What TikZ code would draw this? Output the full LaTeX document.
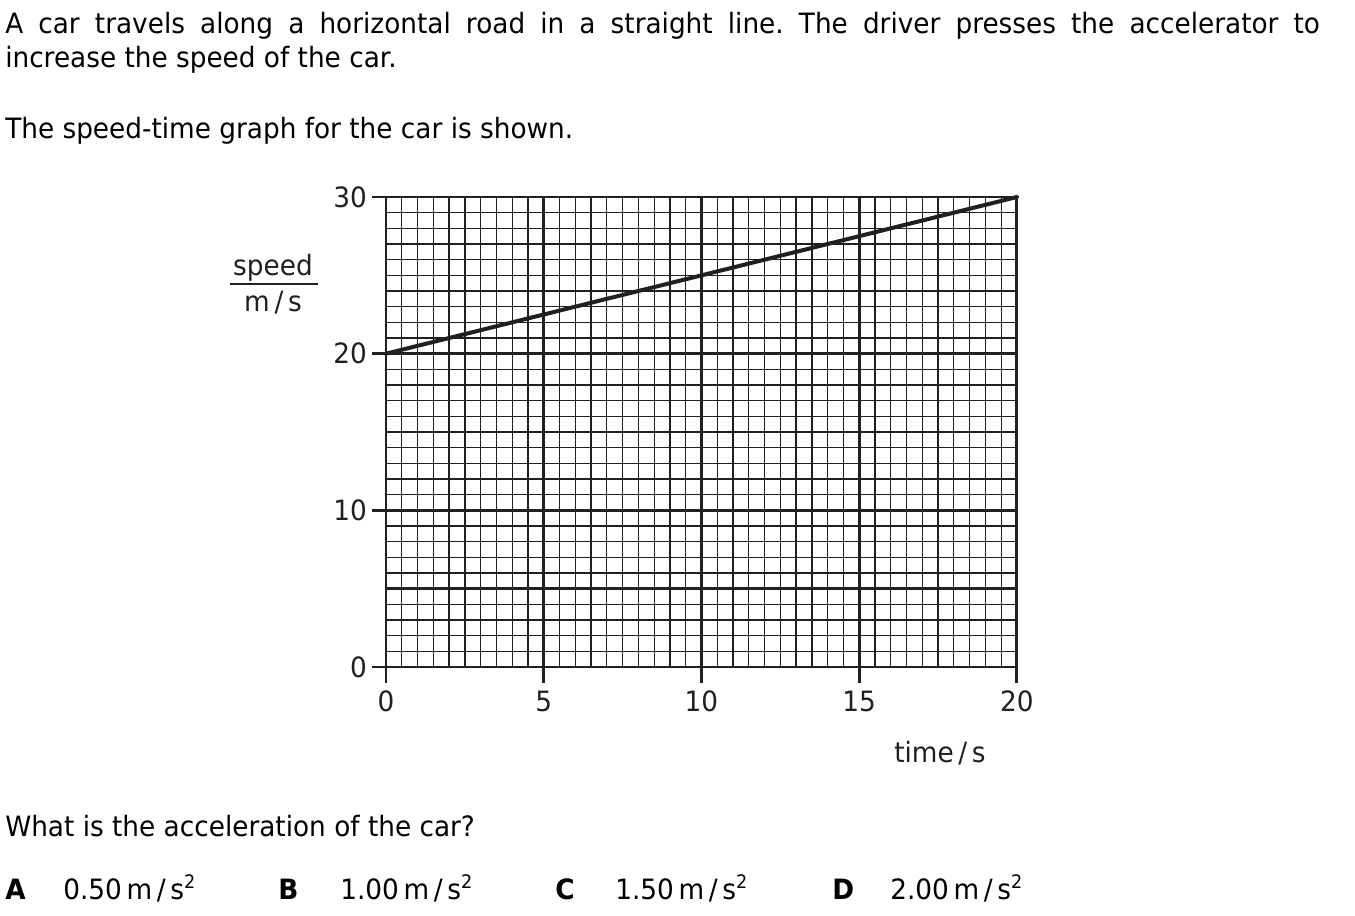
\documentclass[tikz,border=0pt]{standalone}
\usepackage{fontspec}
\setmainfont{DejaVu Sans}[FakeStretch=0.94]
\usepackage{xcolor}
\usetikzlibrary{positioning}
\definecolor{ink}{HTML}{231F20}
\frenchspacing

\begin{document}
\begin{tikzpicture}[
    x=0.75pt, y=-0.75pt,
    txt/.style={anchor=base west, inner sep=0pt, font=\fontsize{21}{26}\selectfont},
    lbl/.style={inner sep=0pt, text=ink, font=\fontsize{21}{26}\selectfont},
    minor/.style={draw=ink, line width=0.95pt},
    major/.style={draw=ink, line width=2.2pt},
    dataline/.style={draw=ink, line width=3pt}
]
\useasboundingbox (0,0) rectangle (1355,915);

% question text
\node[txt, text width=986pt, align=justify] (intro) at (5,33)
  {A car travels along a horizontal road in a straight line. The driver presses the accelerator to\linebreak increase the speed of the car.};
\node[txt] (shown) at (5,138) {The speed-time graph for the car is shown.};

% graph
\begin{scope}[shift={(386,667)}, x=23.66pt, y=11.75pt]
  \foreach \t in {0.5,1,...,20} \draw[minor] (\t,0) -- (\t,30);
  \foreach \v in {1,...,30} \draw[minor] (0,\v) -- (20,\v);
  \foreach \t in {0,5,10,15,20} \draw[major] (\t,-1) -- (\t,30);
  \foreach \v in {0,5,10,20,30} \draw[major] (0,\v) -- (20,\v);
  \foreach \v in {0,10,20,30} {
    \draw[major] (-0.45,\v) -- (0,\v);
    \node[lbl, anchor=base east] (ylab\v) at (-0.6,\v-0.65) {\v};
  }
  \foreach \t in {0,5,10,15,20}
    \node[lbl, anchor=base] (xlab\t) at (\t,-2.87) {\t};
  \coordinate (start) at (0,20);
  \coordinate (finish) at (20,30);
  \draw[dataline, line cap=round] (start) -- (finish);
\end{scope}

\node[lbl, anchor=base] (speed) at (273,275) {speed};
\node[lbl, anchor=base] (unit) at (273,311) {m\,/\,s};
\draw[ink, line width=1.5pt] (230,284) -- (318,284);
\node[lbl, anchor=base] (time) at (940,762) {time\,/\,s};

% answers
\newcommand{\sqr}{\textsuperscript{\fontsize{14}{16}\selectfont 2}}
\node[txt] (ask) at (5,836) {What is the acceleration of the car?};
\node[txt, font=\fontsize{21}{26}\selectfont\bfseries] (optA) at (5,899) {A};
\node[txt] (valA) at (63,899) {0.50\,m\,/\,s\sqr};
\node[txt, font=\fontsize{21}{26}\selectfont\bfseries] (optB) at (278,899) {B};
\node[txt] (valB) at (340,899) {1.00\,m\,/\,s\sqr};
\node[txt, font=\fontsize{21}{26}\selectfont\bfseries] (optC) at (555,899) {C};
\node[txt] (valC) at (615,899) {1.50\,m\,/\,s\sqr};
\node[txt, font=\fontsize{21}{26}\selectfont\bfseries] (optD) at (832,899) {D};
\node[txt] (valD) at (890,899) {2.00\,m\,/\,s\sqr};

\end{tikzpicture}
\end{document}
